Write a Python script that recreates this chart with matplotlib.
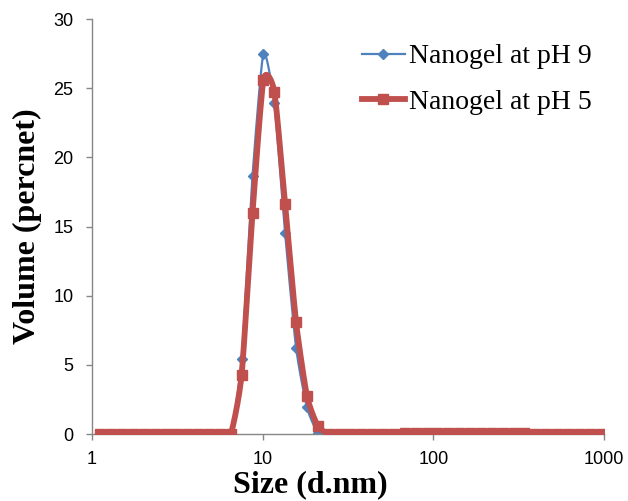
import matplotlib

matplotlib.use("Agg")

import matplotlib.pyplot as plt
import numpy as np

# Zetasizer size bins shown on the axis (d.nm)
sizes = [
    1.117, 1.294, 1.499, 1.736, 2.010, 2.328, 2.696, 3.122, 3.615, 4.187,
    4.849, 5.615, 6.503, 7.531, 8.721, 10.10, 11.70, 13.54, 15.69, 18.17,
    21.04, 24.36, 28.21, 32.67, 37.84, 43.82, 50.75, 58.77, 68.06, 78.82,
    91.28, 105.7, 122.4, 141.8, 164.2, 190.1, 220.2, 255.0, 295.3, 342.0,
    396.1, 458.7, 531.2, 615.1, 712.4, 825.0, 955.4,
]

volume_ph9 = [
    0, 0, 0, 0, 0, 0, 0, 0, 0, 0,
    0, 0, 0, 5.4, 18.65, 27.5, 23.9, 14.5, 6.25, 1.93,
    0.1, 0, 0, 0, 0, 0, 0, 0, 0.1, 0.1,
    0.1, 0.1, 0.1, 0.1, 0.1, 0.1, 0.1, 0.1, 0.1, 0.1,
    0, 0, 0, 0, 0, 0, 0,
]

volume_ph5 = [
    0, 0, 0, 0, 0, 0, 0, 0, 0, 0,
    0, 0, 0, 4.3, 16.0, 25.6, 24.75, 16.6, 8.1, 2.75,
    0.58, 0, 0, 0, 0, 0, 0, 0, 0.1, 0.1,
    0.1, 0.1, 0.1, 0.1, 0.1, 0.1, 0.1, 0.1, 0.1, 0.1,
    0, 0, 0, 0, 0, 0, 0,
]

series_labels = ["Nanogel at pH 9", "Nanogel at pH 5"]
x_ticks = [1, 10, 100, 1000]
y_ticks = [0, 5, 10, 15, 20, 25, 30]


def smooth_line(x, y, steps=12, tension=0.6):
    """Cardinal curve through the points in (log x, y), like Excel's smoothed line."""
    lx = np.log10(np.asarray(x, dtype=float))
    y = np.asarray(y, dtype=float)
    px = np.concatenate([[lx[0]], lx, [lx[-1]]])
    py = np.concatenate([[y[0]], y, [y[-1]]])
    t = np.linspace(0, 1, steps, endpoint=False)
    h00 = 2 * t ** 3 - 3 * t ** 2 + 1
    h10 = t ** 3 - 2 * t ** 2 + t
    h01 = -2 * t ** 3 + 3 * t ** 2
    h11 = t ** 3 - t ** 2
    out_x, out_y = [], []
    for i in range(1, len(px) - 2):
        for arr, out in ((px, out_x), (py, out_y)):
            p0, p1, p2, p3 = arr[i - 1], arr[i], arr[i + 1], arr[i + 2]
            m1 = tension * (p2 - p0) / 2
            m2 = tension * (p3 - p1) / 2
            out.extend(h00 * p1 + h10 * m1 + h01 * p2 + h11 * m2)
    out_x.append(lx[-1])
    out_y.append(y[-1])
    return 10 ** np.asarray(out_x), np.asarray(out_y)


fig = plt.figure(figsize=(6.28, 5.01), dpi=100)
ax = fig.add_axes([0.1465, 0.1337, 0.8153, 0.8283])

blue = "#4f81bd"
red = "#c0504d"

sx, sy = smooth_line(sizes, volume_ph9)
ax.plot(sx, sy, color=blue, linewidth=1.6, zorder=2)
ax.plot(sizes, volume_ph9, linestyle="none", marker="D", markersize=5.2,
        color=blue, zorder=2)
ax.plot([], [], color=blue, linewidth=1.6, marker="D", markersize=5.2,
        label=series_labels[0])

sx, sy = smooth_line(sizes, volume_ph5)
ax.plot(sx, sy, color=red, linewidth=4.2, zorder=3, solid_capstyle="round")
ax.plot(sizes, volume_ph5, linestyle="none", marker="s", markersize=7.2,
        color=red, zorder=3)
ax.plot([], [], color=red, linewidth=4.2, marker="s", markersize=7.2,
        label=series_labels[1])

ax.set_xscale("log")
ax.set_xlim(1, 1000)
ax.set_ylim(0, 30)
ax.set_xticks(x_ticks)
ax.set_xticklabels([str(v) for v in x_ticks])
ax.xaxis.set_minor_locator(matplotlib.ticker.NullLocator())
ax.set_yticks(y_ticks)

for side in ("top", "right"):
    ax.spines[side].set_visible(False)
for side in ("left", "bottom"):
    ax.spines[side].set_color("#868686")
    ax.spines[side].set_linewidth(1.0)

ax.tick_params(axis="both", direction="out", length=4.3, width=1.0, color="#868686",
               labelsize=13, labelcolor="black")
ax.tick_params(axis="x", pad=8)
ax.tick_params(axis="y", pad=9)
for lab in ax.get_xticklabels() + ax.get_yticklabels():
    lab.set_fontfamily("Liberation Sans")

ax.set_xlabel("Size (d.nm)", fontfamily="Liberation Serif", fontweight="bold",
              fontsize=23, labelpad=0)
ax.set_ylabel("Volume (percnet)", fontfamily="Liberation Serif", fontweight="bold",
              fontsize=23, labelpad=8)
ax.xaxis.set_label_coords(0.426, -0.088)
ax.yaxis.set_label_coords(-0.098, 0.5)

ax.legend(loc="upper left", bbox_to_anchor=(0.505, 0.967), frameon=False,
          prop={"family": "Liberation Serif", "size": 20},
          handlelength=1.55, handletextpad=0.15, labelspacing=0.72, borderaxespad=0)

fig.savefig("out.png", dpi=100, facecolor="white")
